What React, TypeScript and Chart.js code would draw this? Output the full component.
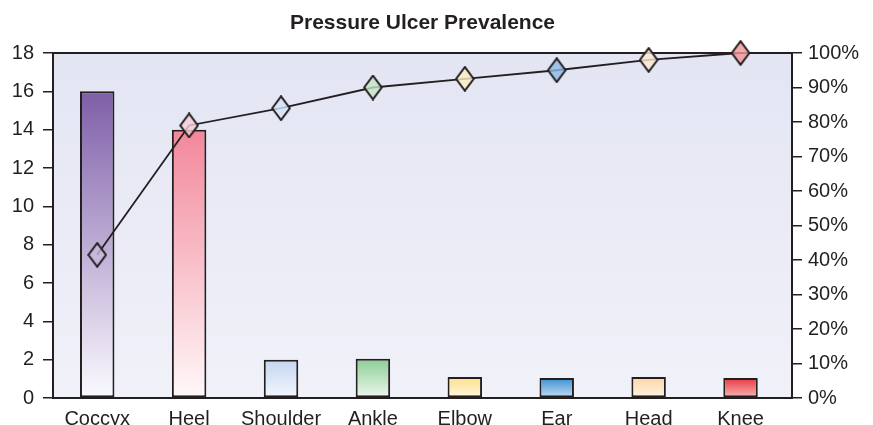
import React, { useEffect, useRef } from "react";
import { Chart, registerables } from "chart.js";

Chart.register(...registerables);

const titleText = "Pressure Ulcer Prevalence";
const categories = ["Coccyx", "Heel", "Shoulder", "Ankle", "Elbow", "Ear", "Head", "Knee"];
const counts = [16, 14, 2, 2.05, 1.1, 1.05, 1.1, 1.05];
const cumulativePct = [41.5, 79, 84, 90, 92.5, 95, 98, 100];
const barTopColors = ["#7e5ea8", "#f2879a", "#c4d6f0", "#8bcd95", "#fddf88", "#3a8fd3", "#fdd6a6", "#e8363e"];
const barBottomColors = ["#fbfaff", "#fff8f9", "#f2f7fd", "#eef8ef", "#fff7e2", "#c6def3", "#fff3e4", "#f9b8b8"];
const markerColors = [
  "rgba(200,184,222,0.8)",
  "rgba(248,206,214,0.8)",
  "rgba(214,230,248,0.8)",
  "rgba(196,230,200,0.8)",
  "rgba(252,238,196,0.8)",
  "rgba(140,186,228,0.8)",
  "rgba(250,232,208,0.8)",
  "rgba(240,150,150,0.8)",
];
const INK = "#231f20";
const FONT = "'Liberation Sans', Arial, Helvetica, sans-serif";

function makeDiamond(color: string) {
  const cv = document.createElement("canvas");
  cv.width = 20;
  cv.height = 26;
  const c = cv.getContext("2d")!;
  c.beginPath();
  c.moveTo(10, 1.2);
  c.lineTo(18.8, 13);
  c.lineTo(10, 24.8);
  c.lineTo(1.2, 13);
  c.closePath();
  c.fillStyle = color;
  c.fill();
  c.lineWidth = 2;
  c.strokeStyle = INK;
  c.lineJoin = "miter";
  c.stroke();
  return cv;
}

const bgPlugin = {
  id: "plotBg",
  beforeDatasetsDraw(chart: any) {
    const { ctx, chartArea: a } = chart;
    ctx.save();
    const g = ctx.createLinearGradient(0, a.top, 0, a.bottom);
    g.addColorStop(0, "#e3e5f3");
    g.addColorStop(1, "#f1f1f9");
    ctx.fillStyle = g;
    ctx.fillRect(a.left, a.top, a.right - a.left, a.bottom - a.top);
    ctx.strokeStyle = INK;
    ctx.lineWidth = 2;
    ctx.strokeRect(a.left, a.top, a.right - a.left, a.bottom - a.top);
    ctx.restore();
  },
  afterDraw(chart: any) {
    const { ctx, chartArea: a } = chart;
    ctx.save();
    ctx.fillStyle = INK;
    ctx.font = `bold 21px ${FONT}`;
    ctx.textAlign = "center";
    ctx.textBaseline = "middle";
    ctx.fillText(titleText, (a.left + a.right) / 2, 23);
    ctx.restore();
  },
};

export default function App() {
  const ref = useRef<HTMLCanvasElement>(null);
  useEffect(() => {
    document.body.style.margin = "0";
    const markers = markerColors.map(makeDiamond);
    const chart = new Chart(ref.current!, {
      type: "bar",
      data: {
        datasets: [
          {
            type: "line",
            data: cumulativePct.map((v, i) => ({ x: i, y: v })),
            xAxisID: "x",
            yAxisID: "y2",
            borderColor: INK,
            borderWidth: 1.8,
            tension: 0,
            pointStyle: markers as any,
            pointRadius: 10,
            clip: false as any,
            order: 0,
          } as any,
          {
            type: "bar",
            data: counts.map((v, i) => ({ x: i, y: v })),
            xAxisID: "x",
            yAxisID: "y",
            borderColor: INK,
            borderWidth: 2,
            borderSkipped: false,
            barPercentage: 0.375,
            categoryPercentage: 1,
            order: 1,
            backgroundColor: (ctx: any) => {
              const chart = ctx.chart;
              const i = ctx.dataIndex;
              const ys = chart.scales.y;
              if (!ys || !chart.chartArea) return barTopColors[i];
              const top = ys.getPixelForValue(counts[i]);
              const base = ys.getPixelForValue(0);
              const g = chart.ctx.createLinearGradient(0, top, 0, base);
              g.addColorStop(0, barTopColors[i]);
              g.addColorStop(1, barBottomColors[i]);
              return g;
            },
          } as any,
        ],
      },
      options: {
        animation: false,
        responsive: true,
        maintainAspectRatio: false,
        layout: { padding: { top: 53, left: 0, right: 0, bottom: 0 } },
        plugins: {
          legend: { display: false },
          tooltip: { enabled: false },
          title: { display: false },
        },
        scales: {
          x: {
            type: "linear",
            min: -0.481,
            max: 7.56,
            offset: false,
            grid: { display: false, drawTicks: false },
            border: { display: true, color: INK, width: 2 },
            ticks: {
              color: INK,
              font: { family: FONT, size: 20 },
              padding: 9,
              maxRotation: 0,
              autoSkip: false,
              callback: (v: any) => categories[v] ?? "",
            },
            afterBuildTicks: (s: any) => {
              s.ticks = categories.map((_, i) => ({ value: i }));
            },
            afterFit: (s: any) => {
              s.height = 27;
            },
          },
          y: {
            position: "left",
            min: 0,
            max: 18,
            ticks: { stepSize: 2, color: INK, font: { family: FONT, size: 20 }, padding: 9 },
            grid: { drawOnChartArea: false, drawTicks: true, tickLength: 10, color: INK, lineWidth: 1.5 },
            border: { display: true, color: INK, width: 2 },
            afterFit: (s: any) => {
              s.width = 53;
            },
          },
          y2: {
            position: "right",
            min: 0,
            max: 100,
            ticks: {
              stepSize: 10,
              color: INK,
              font: { family: FONT, size: 20 },
              padding: 6,
              callback: (v: any) => v + "%",
            },
            grid: { drawOnChartArea: false, drawTicks: true, tickLength: 10, color: INK, lineWidth: 1.5 },
            border: { display: true, color: INK, width: 2 },
            afterFit: (s: any) => {
              s.width = 81;
            },
          },
        },
      } as any,
      plugins: [bgPlugin],
    });
    return () => chart.destroy();
  }, []);
  return (
    <div style={{ width: 873, height: 425, position: "relative", background: "#fff" }}>
      <canvas ref={ref} />
    </div>
  );
}
